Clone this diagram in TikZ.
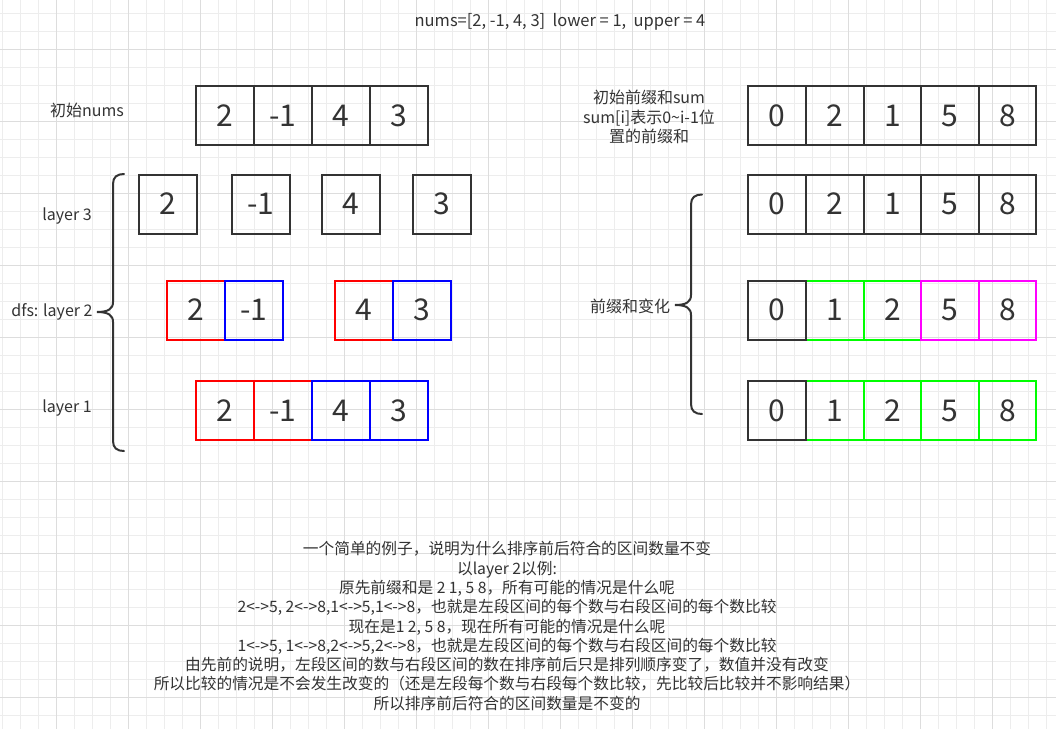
\documentclass[tikz,border=0pt]{standalone}
\usepackage{fontspec}
\setmainfont{Noto Sans CJK SC}
\begin{document}
\begin{tikzpicture}[x=1pt,y=-1pt,
  minorgrid/.style={draw=gridminor,line width=1pt},
  majorgrid/.style={draw=gridmajor,line width=1pt},
  cell/.style={draw=boxgray,line width=2pt,minimum width=58pt,minimum height=59pt,inner sep=0pt,outer sep=0pt,text=txt,font=\fontsize{30}{32}\selectfont},
  rcell/.style={cell,draw=red},
  bcell/.style={cell,draw=blue},
  gcell/.style={cell,draw=grn},
  mcell/.style={cell,draw=mag},
  lbl/.style={text=txt,font=\fontsize{16}{19.4}\selectfont,inner sep=0pt,align=center},
  bracestyle/.style={draw=boxgray,line width=2pt,line cap=round}]
\definecolor{gridminor}{HTML}{EDEDED}
\definecolor{gridmajor}{HTML}{DDDDDD}
\definecolor{boxgray}{HTML}{333333}
\definecolor{txt}{HTML}{333333}
\definecolor{grn}{HTML}{00FF00}
\definecolor{mag}{HTML}{FF00FF}
\useasboundingbox (0,0) rectangle (1056,729);
\fill[white] (0,0) rectangle (1056,729);
% grid
\foreach \i in {0,...,58} \draw[minorgrid] ({2.5+18*\i},0) -- ({2.5+18*\i},729);
\foreach \j in {0,...,40} \draw[minorgrid] (0,{13.3+18*\j}) -- (1056,{13.3+18*\j});
\foreach \i in {0,...,14} \draw[majorgrid] ({56.5+72*\i},0) -- ({56.5+72*\i},729);
\foreach \j in {0,...,9} \draw[majorgrid] (0,{49.3+72*\j}) -- (1056,{49.3+72*\j});

% title
\node[lbl,font=\fontsize{16.5}{19.4}\selectfont] (title) at (560,22) {nums=[2, -1, 4, 3]\ \ lower = 1,\ \ upper = 4};

% left labels
\node[lbl] (lnums) at (87,110) {初始nums};
\node[lbl] (l3) at (67,216) {layer 3};
\node[lbl] (l2) at (52,312) {dfs: layer 2};
\node[lbl] (l1) at (67,408) {layer 1};

% initial nums
\node[cell] (n1) at (225,115.5) {2};
\node[cell] (n2) at (283,115.5) {-1};
\node[cell] (n3) at (341,115.5) {4};
\node[cell] (n4) at (399,115.5) {3};

% layer 3
\node[cell] (a1) at (167.5,204) {2};
\node[cell] (a2) at (261,204) {-1};
\node[cell] (a3) at (350.7,204) {4};
\node[cell] (a4) at (442.3,204) {3};

% layer 2
\node[rcell] (b1) at (196.2,310) {2};
\node[bcell] (b2) at (254,310) {-1};
\node[rcell] (b3) at (364.3,310) {4};
\node[bcell] (b4) at (422.2,310) {3};

% layer 1
\node[rcell] (c1) at (225,410.5) {2};
\node[rcell] (c2) at (283,410.5) {-1};
\node[bcell] (c3) at (341,410.5) {4};
\node[bcell] (c4) at (399,410.5) {3};

% left brace
\coordinate (lbt) at (124,174);
\coordinate (lbm) at (97,312);
\coordinate (lbb) at (124,451);
\draw[bracestyle] (lbt) .. controls (117,174) and (113,177) .. (113,184) -- (113,302)
  .. controls (113,309) and (108,312) .. (lbm)
  .. controls (108,312) and (113,315) .. (113,322) -- (113,441)
  .. controls (113,448) and (117,451) .. (lbb);

% right labels
\node[lbl] (rsum) at (649,117) {初始前缀和sum\\sum[i]表示0\textasciitilde i-1位\\置的前缀和};
\node[lbl] (rchg) at (630,306) {前缀和变化};

% initial sum
\node[cell,minimum width=57.7pt] (s0) at (777,115.5) {0};
\node[cell,minimum width=57.7pt] (s1) at (835,115.5) {2};
\node[cell,minimum width=57.7pt] (s2) at (892.5,115.5) {1};
\node[cell,minimum width=57.7pt] (s3) at (950,115.5) {5};
\node[cell,minimum width=57.7pt] (s4) at (1007.5,115.5) {8};

% row 2
\node[cell,minimum width=57.7pt] (t0) at (777,204) {0};
\node[cell,minimum width=57.7pt] (t1) at (835,204) {2};
\node[cell,minimum width=57.7pt] (t2) at (892.5,204) {1};
\node[cell,minimum width=57.7pt] (t3) at (950,204) {5};
\node[cell,minimum width=57.7pt] (t4) at (1007.5,204) {8};

% row 3
\node[gcell,minimum width=57.7pt] (u1) at (835,310) {1};
\node[gcell,minimum width=57.7pt] (u2) at (892.5,310) {2};
\node[mcell,minimum width=57.7pt] (u3) at (950,310) {5};
\node[mcell,minimum width=57.7pt] (u4) at (1007.5,310) {8};
\node[cell,minimum width=57.7pt] (u0) at (777,310) {0};

% row 4
\node[gcell,minimum width=57.7pt] (v1) at (835,410.5) {1};
\node[gcell,minimum width=57.7pt] (v2) at (892.5,410.5) {2};
\node[gcell,minimum width=57.7pt] (v3) at (950,410.5) {5};
\node[gcell,minimum width=57.7pt] (v4) at (1007.5,410.5) {8};
\node[cell,minimum width=57.7pt] (v0) at (777,410.5) {0};

% right brace
\coordinate (rbt) at (702,194.5);
\coordinate (rbm) at (675,305);
\coordinate (rbb) at (702,414);
\draw[bracestyle] (rbt) .. controls (695,194.5) and (691,197.5) .. (691,204.5) -- (691,295)
  .. controls (691,302) and (686,305) .. (rbm)
  .. controls (686,305) and (691,308) .. (691,315) -- (691,404)
  .. controls (691,411) and (695,414) .. (rbb);

% explanation
\node[lbl,font=\fontsize{15.7}{19.3}\selectfont] (expl) at (507,626) {一个简单的例子，说明为什么排序前后符合的区间数量不变\\
以layer 2以例:\\
原先前缀和是 2 1, 5 8，所有可能的情况是什么呢\\
2<->5, 2<->8,1<->5,1<->8，也就是左段区间的每个数与右段区间的每个数比较\\
现在是1 2, 5 8，现在所有可能的情况是什么呢\\
1<->5, 1<->8,2<->5,2<->8，也就是左段区间的每个数与右段区间的每个数比较\\
由先前的说明，左段区间的数与右段区间的数在排序前后只是排列顺序变了，数值并没有改变\\
所以比较的情况是不会发生改变的（还是左段每个数与右段每个数比较，先比较后比较并不影响结果）\\
所以排序前后符合的区间数量是不变的};
\end{tikzpicture}
\end{document}
